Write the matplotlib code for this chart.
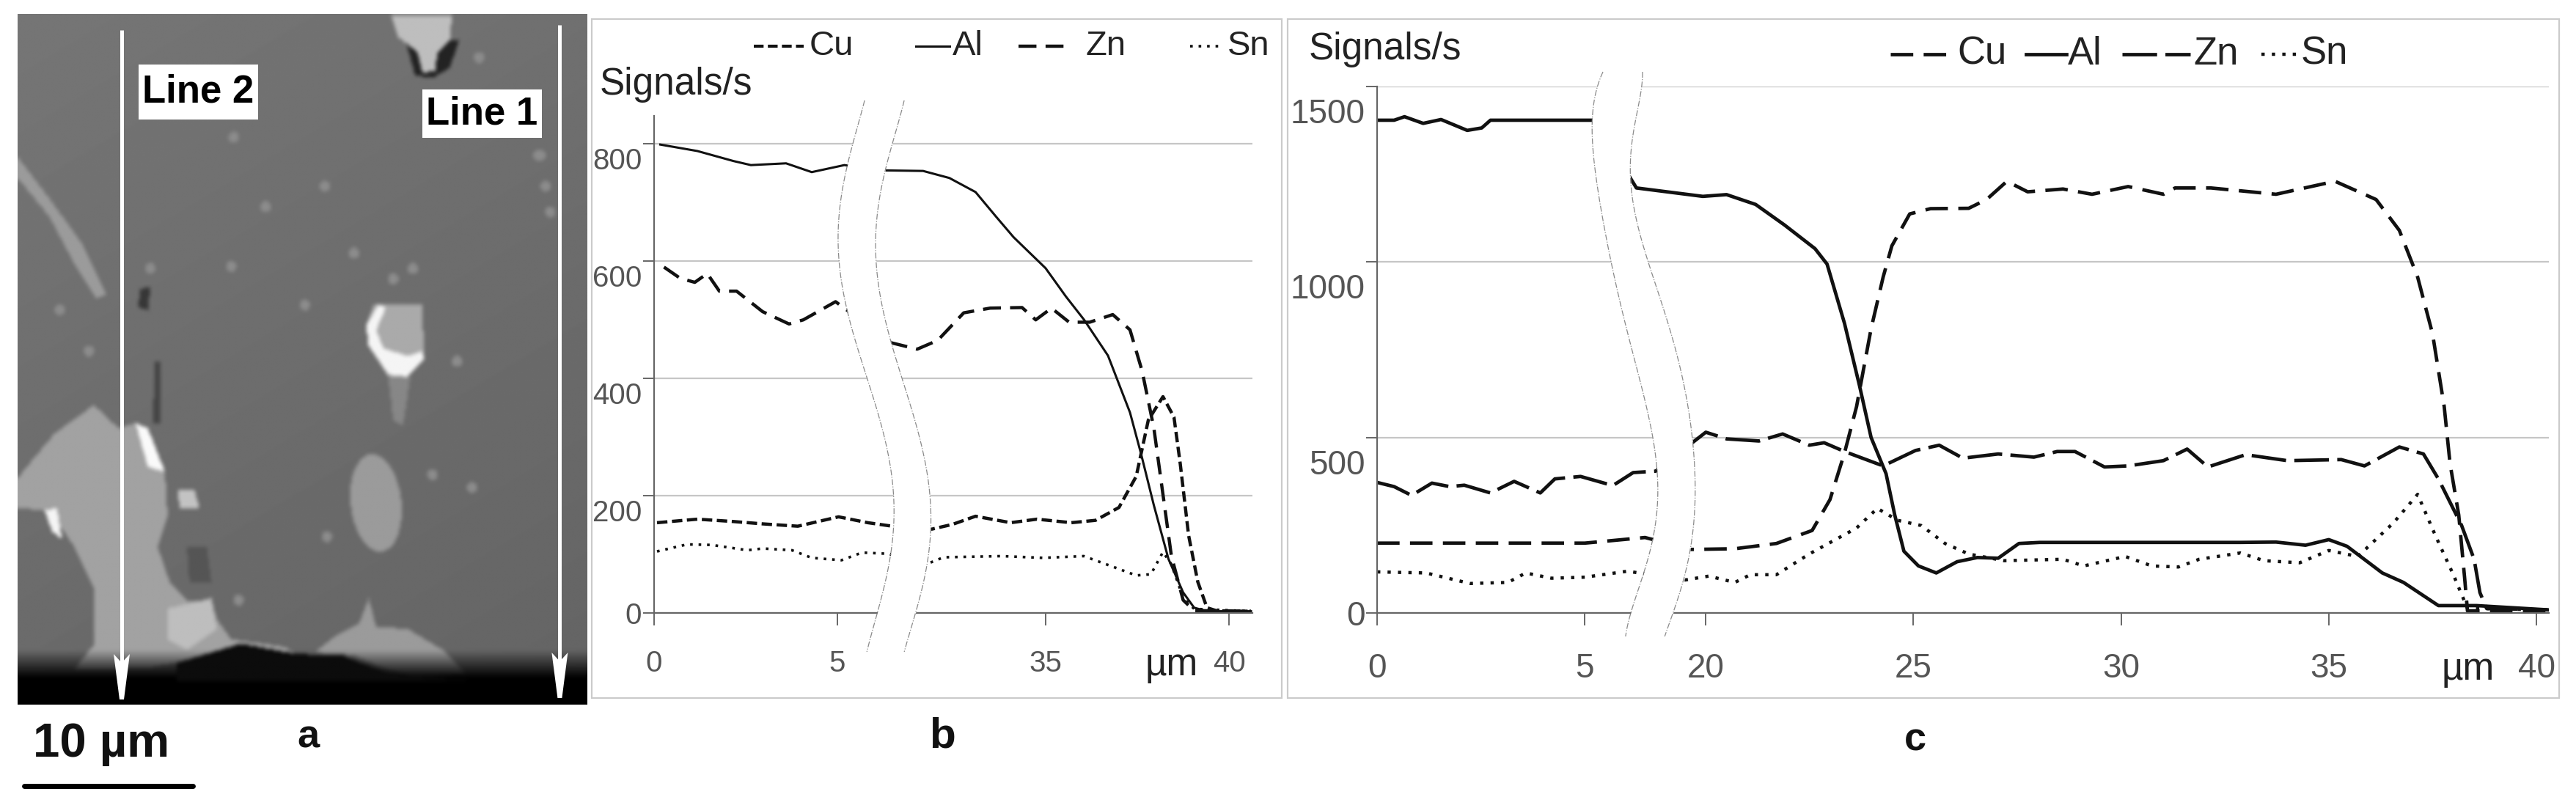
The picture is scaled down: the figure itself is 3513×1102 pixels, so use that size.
import numpy as np
import matplotlib
matplotlib.use('Agg')
import matplotlib.pyplot as plt
from matplotlib.path import Path
from matplotlib.patches import Polygon, Rectangle
from matplotlib.transforms import ScaledTranslation

matplotlib.rcParams.update({'font.family': ['Liberation Sans', 'DejaVu Sans']})

W, H = 3513, 1102

# panel b, values (um, signals/s)
b_al_x = [0.17, 1.18, 2.16, 2.64, 3.6, 4.3, 6.0, 11.47, 17.35, 21.13, 24.9, 27.86, 30.38, 35, 35.55, 36.05, 36.7, 37.3, 37.6, 37.95, 38.35, 38.75, 39.05, 39.4, 40.6]
b_al_y = [799, 788, 771, 764, 767, 752, 764, 755, 754, 742, 718, 676, 641, 588, 540, 500, 439, 342, 272, 184, 92, 35, 9, 3, 3]
b_zn_x = [0.27, 0.71, 1.11, 1.45, 1.78, 2.25, 2.96, 3.68, 4.07, 4.95, 12.73, 16.5, 19.45, 23.2, 27.0, 31.6, 33.57, 35.16, 35.64, 36.2, 36.83, 37.3, 37.63, 37.95, 38.2, 38.43, 38.75, 39.05, 40.6]
b_zn_y = [590, 571, 564, 579, 549, 549, 514, 493, 500, 531, 461, 450, 465, 512, 520, 521, 500, 520, 496, 496, 509, 483, 413, 316, 202, 97, 22, 4, 3]
b_cu_x = [0.08, 1.18, 2.16, 2.96, 3.92, 5.17, 9.37, 12.9, 18.6, 21.55, 24.9, 29.96, 33.74, 35.7, 36.36, 37.0, 37.47, 37.8, 38.2, 38.5, 38.67, 38.9, 39.15, 39.4, 39.7, 40.6]
b_cu_y = [154, 160, 156, 152, 148, 164, 154, 148, 143, 151, 165, 154, 160, 154, 158, 180, 233, 329, 369, 334, 255, 132, 53, 9, 3, 3]
b_sn_x = [0.08, 0.9, 1.58, 2.55, 2.96, 3.76, 4.3, 5.59, 8.53, 12.3, 17.77, 20.3, 28.7, 34.6, 36.04, 36.83, 37.47, 37.87, 38.2, 38.43, 38.75, 39.05, 40.6]
b_sn_y = [105, 117, 116, 107, 110, 107, 94, 90, 103, 101, 83, 95, 97, 94, 97, 79, 64, 66, 104, 83, 26, 7, 3]

# panel c
c_al_x = [0, 0.41, 0.66, 1.11, 1.54, 2.17, 2.52, 2.73, 6.3, 11.4, 19.63, 20.5, 21.2, 21.9, 22.63, 22.92, 23.34, 23.7, 23.98, 24.34, 24.55, 24.77, 25.12, 25.55, 26.05, 26.54, 27.04, 27.54, 28.04, 32.87, 33.73, 34.44, 35.0, 35.44, 36.29, 36.8, 37.64, 38.56, 40.27]
c_al_y = [1404, 1404, 1414, 1395, 1406, 1375, 1382, 1404, 1404, 1211, 1187, 1192, 1164, 1105, 1038, 994, 825, 648, 500, 397, 279, 176, 134, 114, 146, 158, 156, 198, 201, 201, 202, 193, 209, 190, 114, 87, 21, 21, 9]
c_zn_x = [0, 0.41, 0.83, 1.32, 1.75, 2.1, 2.73, 3.3, 3.93, 4.28, 4.9, 8.48, 11.0, 13.8, 20, 20.5, 21.28, 21.85, 22.49, 22.85, 23.34, 24.27, 25.05, 25.62, 26.19, 27.04, 27.9, 28.46, 28.89, 29.6, 30.17, 31.02, 31.59, 32.09, 33.0, 34.0, 35.3, 35.86, 36.7, 37.28, 37.64, 38.2, 38.5, 38.64, 38.8, 40.27]
c_zn_y = [372, 360, 335, 370, 360, 364, 342, 375, 342, 382, 389, 363, 400, 404, 515, 496, 490, 510, 478, 485, 460, 419, 463, 478, 441, 453, 444, 460, 460, 416, 419, 434, 467, 416, 451, 434, 437, 419, 473, 453, 382, 249, 153, 58, 13, 9]
c_cu_x = [0, 5, 12.47, 18.17, 20.7, 21.7, 22.56, 22.99, 23.34, 23.63, 23.98, 24.27, 24.48, 24.91, 25.41, 26.33, 26.76, 27.25, 27.75, 28.6, 29.3, 30.17, 31.02, 31.3, 32.16, 33.73, 35.15, 36.14, 36.7, 37.14, 37.5, 37.78, 37.92, 38.13, 38.27, 38.34, 40.27]
c_cu_y = [199, 199, 215, 181, 183, 198, 235, 323, 456, 588, 810, 957, 1046, 1137, 1152, 1153, 1178, 1230, 1200, 1208, 1193, 1215, 1193, 1211, 1211, 1193, 1230, 1178, 1090, 957, 795, 588, 426, 279, 102, 6, 6]
c_sn_x = [0, 1.18, 2.24, 3.15, 3.58, 4.2, 5.04, 10.3, 17.44, 20.07, 20.7, 21.07, 21.7, 22.49, 23.63, 24.13, 24.62, 25.19, 25.76, 26.33, 27.18, 28.6, 29.1, 30.1, 30.74, 31.38, 31.88, 32.87, 33.44, 34.3, 35.0, 35.7, 36.56, 37.14, 37.57, 38, 38.34, 40.27]
c_sn_y = [117, 114, 84, 87, 114, 99, 102, 119, 94, 105, 87, 109, 109, 168, 242, 298, 264, 249, 198, 168, 149, 153, 134, 161, 134, 131, 153, 171, 149, 143, 178, 161, 257, 338, 220, 109, 13, 9]

b_xticks = [0, 5, 35, 40]
b_yticks = [0, 200, 400, 600, 800]
c_xticks = [0, 5, 20, 25, 30, 35, 40]
c_yticks = [0, 500, 1000, 1500]

# light specks in the micrograph
speck_x = [470, 305, 660, 720, 840, 1100, 475, 975, 960, 880, 665, 180, 540, 1095, 1110, 800, 485, 620, 1120, 930, 120]
speck_y = [515, 520, 360, 490, 520, 300, 265, 110, 945, 920, 1040, 680, 400, 300, 360, 540, 1163, 590, 410, 700, 600]


def px_axes(fig, left, right, top, bottom):
    return fig.add_axes([left / W, 1 - bottom / H, (right - left) / W, (bottom - top) / H])


def broken_scale(ax, x0, x1, width):
    # the x axis jumps from x0 to x1 and the gap only takes "width" units
    src = [-100, x0, x1, 100]
    dst = [-100, x0, x0 + width, x0 + width + 100 - x1]
    ax.set_xscale('function', functions=(lambda v: np.interp(v, src, dst),
                                         lambda v: np.interp(v, dst, src)))


def style_axes(ax, xticks, yticks, xlim, ylim, tick_size, x_pad, label_drop):
    ax.patch.set_alpha(0)
    ax.set_xlim(*xlim)
    ax.set_ylim(*ylim)
    ax.set_xticks(xticks)
    ax.set_yticks(yticks)
    ax.set_xticklabels([str(t) for t in xticks])
    ax.minorticks_off()
    ax.yaxis.grid(True, color='#c6c6c6', lw=1.6)
    ax.set_axisbelow(True)
    for s in ['top', 'right']:
        ax.spines[s].set_visible(False)
    for s in ['left', 'bottom']:
        ax.spines[s].set_color('#666666')
        ax.spines[s].set_linewidth(1.6)
    ax.tick_params(axis='x', length=12, width=1.4, color='#666666', pad=x_pad, labelsize=tick_size, labelcolor='#555555')
    ax.tick_params(axis='y', length=11, width=1.4, color='#666666', pad=1, labelsize=tick_size, labelcolor='#555555')
    # the y numbers sit below their grid lines, only 0 is level
    shift = ScaledTranslation(0, -label_drop / 100, ax.figure.dpi_scale_trans)
    for t, lab in zip(yticks, ax.get_yticklabels()):
        if t != 0:
            lab.set_transform(lab.get_transform() + shift)


def draw_break(ov, left, right):
    left = np.array(left, float)
    right = np.array(right, float)
    yy = np.linspace(left[0, 1], left[-1, 1], 120)
    lx = np.polyval(np.polyfit(left[:, 1], left[:, 0], 7), yy)
    rx = np.polyval(np.polyfit(right[:, 1], right[:, 0], 7), yy)
    ov.fill_betweenx(yy, lx, rx, color='white', lw=0, zorder=3)
    ov.plot(lx, yy, color='#8a8a8a', lw=0.9, ls='-.', zorder=4)
    ov.plot(rx, yy, color='#8a8a8a', lw=0.9, ls='-.', zorder=4)


def legend_row(ov, y, rows, size):
    for x0, x1, tx, name, style, lw in rows:
        ov.plot([x0, x1], [y, y], color='#111111', lw=lw, ls=style, zorder=5)
        ov.text(tx, y, name, fontsize=size, color='#222222', va='center', ha='left', zorder=5)


def soften(img, size):
    kernel = np.ones(size) / size
    for _ in range(2):
        pad = np.pad(img, size, mode='edge')
        pad = np.apply_along_axis(lambda r: np.convolve(r, kernel, mode='same'), 0, pad)
        pad = np.apply_along_axis(lambda r: np.convolve(r, kernel, mode='same'), 1, pad)
        img = pad[size:-size, size:-size]
    return img


def sem_photo():
    # rough redraw of the micrograph, shapes in a 1159 x 1341 grid
    step = 3
    xs = np.arange(36, 1195, step)
    ys = np.arange(27, 1368, step)
    gx, gy = np.meshgrid(xs, ys)
    pts = np.column_stack([gx.ravel(), gy.ravel()])
    img = 106 + 12 * (1 - gy / 1368.0) - 6 * (gx / 1195.0)

    def put(verts, level):
        inside = Path(verts).contains_points(pts).reshape(gx.shape)
        img[inside] = level

    for sx, sy in zip(speck_x, speck_y):
        t = np.linspace(0, 2 * np.pi, 12)
        put(np.column_stack([sx + 11 * np.cos(t), sy + 11 * np.sin(t)]), 140)

    put([(36, 305), (100, 385), (165, 470), (215, 570), (195, 578), (150, 510), (100, 420), (36, 345)], 155)
    put([(36, 925), (110, 840), (190, 785), (240, 830), (275, 820), (300, 860), (335, 920), (340, 1000), (320, 1060), (345, 1130), (380, 1165), (430, 1165), (440, 1200), (470, 1240), (580, 1255), (600, 1268), (490, 1250), (380, 1280), (300, 1295), (150, 1298), (190, 1250), (190, 1140), (150, 1060), (100, 990), (36, 985)], 162)
    put([(340, 1180), (430, 1160), (440, 1220), (380, 1260), (340, 1240)], 190)
    put([(275, 820), (300, 830), (335, 915), (300, 905)], 250)
    put([(90, 990), (115, 985), (125, 1045), (105, 1030)], 245)
    put([(360, 950), (395, 950), (405, 985), (365, 985)], 195)
    put([(825, 75), (935, 75), (915, 130), (880, 150), (845, 145)], 35)
    put([(795, 27), (920, 27), (915, 75), (890, 100), (885, 135), (860, 140), (850, 100), (810, 70)], 190)
    put([(790, 730), (835, 730), (820, 825), (800, 815)], 135)
    put([(760, 590), (860, 590), (862, 690), (830, 730), (790, 730), (750, 670), (745, 630)], 170)
    put([(745, 630), (770, 590), (785, 595), (765, 640), (780, 675), (830, 690), (860, 680), (862, 695), (830, 730), (790, 725), (750, 670)], 245)
    t = np.linspace(0, 2 * np.pi, 40)
    put(np.column_stack([765 + 52 * np.cos(t) + 8 * np.sin(t), 975 + 95 * np.sin(t)]), 155)
    put([(640, 1265), (680, 1235), (730, 1210), (750, 1160), (765, 1215), (830, 1220), (900, 1260), (945, 1305), (850, 1315), (780, 1295), (720, 1270)], 155)
    put([(285, 560), (305, 555), (300, 600), (280, 595)], 55)
    put([(315, 700), (325, 700), (325, 820), (310, 820)], 70)
    put([(380, 1060), (420, 1060), (430, 1130), (385, 1130)], 85)

    # fade to black at the bottom edge
    fade = np.clip((1315 - gy) / 55.0, 0, 1)
    img = img * fade
    put([(360, 1285), (490, 1248), (600, 1268), (700, 1272), (800, 1310), (950, 1320), (360, 1320)], 12)
    return soften(img, 3)


fig = plt.figure(figsize=(W / 100, H / 100), dpi=100, facecolor='white')

# panel b
ax_b = px_axes(fig, 892, 1708, 158, 836)
broken_scale(ax_b, 5, 35, 5.68)
ax_b.plot(b_al_x, b_al_y, color='#111111', lw=2.2, ls='-')
ax_b.plot(b_zn_x, b_zn_y, color='#111111', lw=3.2, ls=(0, (5.5, 2.8)))
ax_b.plot(b_cu_x, b_cu_y, color='#111111', lw=3.2, ls=(0, (3.2, 1.4)))
ax_b.plot(b_sn_x, b_sn_y, color='#111111', lw=2.6, ls=(0, (1, 2.2)))
style_axes(ax_b, b_xticks, b_yticks, (0, 40.64), (0, 848), 29, 24, 20)

# panel c
ax_c = px_axes(fig, 1878, 3476, 118, 836)
broken_scale(ax_c, 5, 20, 2.915)
ax_c.plot(c_al_x, c_al_y, color='#111111', lw=3.4, ls='-')
ax_c.plot(c_zn_x, c_zn_y, color='#111111', lw=3.4, ls=(0, (10, 2.4)))
ax_c.plot(c_cu_x, c_cu_y, color='#111111', lw=3.4, ls=(0, (6.5, 3)))
ax_c.plot(c_sn_x, c_sn_y, color='#111111', lw=3.2, ls=(0, (1, 2.2)))
style_axes(ax_c, c_xticks, c_yticks, (0, 40.3), (0, 1500), 33, 27, 33)

# everything else lives on a full figure layer in image pixels
ov = fig.add_axes([0, 0, 1, 1], zorder=5)
ov.set_xlim(0, W)
ov.set_ylim(H, 0)
ov.axis('off')

for x0, x1 in [(807, 1748), (1756, 3490)]:
    ov.add_patch(Rectangle((x0, 26), x1 - x0, 926, fill=False, ec='#cbcbcb', lw=1.6))

draw_break(ov,
           [(1179, 137), (1163, 197), (1143.5, 295), (1143.5, 337), (1163, 450), (1191, 548), (1215, 632), (1219, 703), (1211, 773), (1195, 843), (1182, 889)],
           [(1233, 137), (1215, 204), (1195, 295), (1195, 337), (1211, 450), (1239, 548), (1263, 632), (1269.5, 703), (1263, 773), (1247, 843), (1233, 889)])
draw_break(ov,
           [(2186, 98), (2173, 211), (2196, 351), (2220, 457), (2247.6, 562), (2260, 668), (2254, 738), (2223.7, 836), (2217, 868)],
           [(2240, 98), (2224, 211), (2243.6, 351), (2250, 358), (2282, 464), (2302, 562), (2313, 654), (2306, 738), (2282, 836), (2270, 868)])

legend_row(ov, 63, [
    (1028, 1096, 1104, 'Cu', (0, (3.2, 1.4)), 3.0),
    (1249, 1295, 1299, 'Al', '-', 2.2),
    (1389, 1456, 1480, 'Zn', (0, (5.5, 2.8)), 3.2),
    (1623, 1668, 1674, 'Sn', (0, (1, 2.2)), 2.6)], 34)
legend_row(ov, 74, [
    (2578, 2661, 2669, 'Cu', (0, (6.5, 3)), 3.4),
    (2763, 2818, 2820, 'Al', '-', 3.4),
    (2894, 2987, 2991, 'Zn', (0, (10, 2.4)), 3.4),
    (3084, 3134, 3138, 'Sn', (0, (1, 2.2)), 3.2)], 38)

ov.text(818, 116, 'Signals/s', fontsize=37, color='#222222', va='center')
ov.text(1785, 68, 'Signals/s', fontsize=37, color='#222222', va='center')
ov.text(1598, 907, 'µm', fontsize=37, color='#222222', va='center', ha='center')
ov.text(3366, 914, 'µm', fontsize=37, color='#222222', va='center', ha='center')

# panel a
ov.imshow(sem_photo(), extent=(24, 800, 961, 19), cmap='gray', vmin=0, vmax=255,
          interpolation='bilinear', aspect='auto', zorder=1)
ov.set_xlim(0, W)
ov.set_ylim(H, 0)

for x, y0, y1 in [(166, 41, 954), (763.4, 34, 952)]:
    ov.plot([x, x], [y0, y1 - 40], color='white', lw=3.6, zorder=2, solid_capstyle='butt')
    ov.add_patch(Polygon([(x - 11, y1 - 62), (x, y1 - 50), (x + 11, y1 - 62), (x + 3, y1), (x - 3, y1)], fc='white', ec='none', zorder=2))

for x0, x1, y0, y1, name in [(189, 352, 88, 163, 'Line 2'), (576, 739, 122, 188, 'Line 1')]:
    ov.add_patch(Rectangle((x0, y0), x1 - x0, y1 - y0, fc='white', ec='none', zorder=2))
    ov.text((x0 + x1) / 2, (y0 + y1) / 2, name, fontsize=38, fontweight='bold', color='black', va='center', ha='center', zorder=3)

ov.text(45, 1015, '10 µm', fontsize=47, fontweight='bold', color='#111111', va='center')
ov.plot([33, 263], [1072, 1072], color='black', lw=5, solid_capstyle='round')
ov.text(420, 1005, 'a', fontsize=39, fontweight='bold', color='#111111', va='center', ha='center')
ov.text(1285, 1005, 'b', fontsize=42, fontweight='bold', color='#111111', va='center', ha='center')
ov.text(2612, 1010, 'c', fontsize=39, fontweight='bold', color='#111111', va='center', ha='center')

plt.savefig('out.png', dpi=100, facecolor='white')
